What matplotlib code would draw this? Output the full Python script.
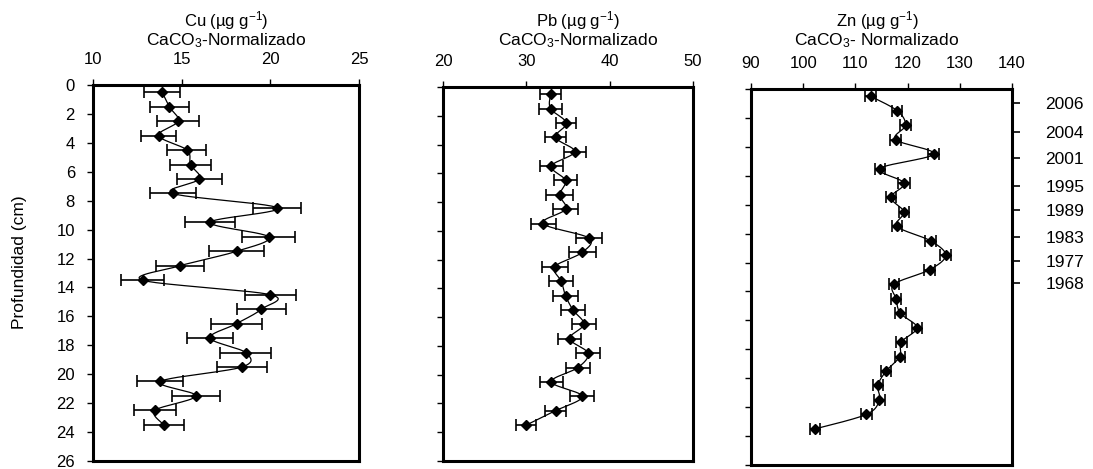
import matplotlib.pyplot as plt
import numpy as np

# fuente tipo Arial
plt.rcParams['font.family'] = ['Liberation Sans', 'DejaVu Sans']
plt.rcParams['mathtext.default'] = 'regular'

# profundidad de cada muestra (cm)
prof = [0.5, 1.5, 2.5, 3.5, 4.5, 5.5, 6.5, 7.5, 8.5, 9.5, 10.5, 11.5,
        12.5, 13.5, 14.5, 15.5, 16.5, 17.5, 18.5, 19.5, 20.5, 21.5, 22.5, 23.5]

# Cu normalizado con CaCO3
cu = [13.9, 14.3, 14.8, 13.7, 15.3, 15.5, 16.0, 14.5, 20.4, 16.6, 19.9, 18.1,
      14.9, 12.8, 20.0, 19.5, 18.1, 16.6, 18.6, 18.4, 13.8, 15.8, 13.5, 14.0]
cu_err = [1.0, 1.1, 1.2, 1.0, 1.1, 1.15, 1.25, 1.3, 1.35, 1.4, 1.5, 1.55,
          1.35, 1.2, 1.45, 1.4, 1.45, 1.3, 1.45, 1.4, 1.3, 1.35, 1.2, 1.15]

# Pb normalizado con CaCO3
pb = [32.9, 32.9, 34.8, 33.5, 35.8, 33.0, 34.7, 34.0, 34.7, 32.0, 37.5, 36.7,
      33.4, 34.2, 34.7, 35.6, 36.9, 35.2, 37.4, 36.2, 33.0, 36.7, 33.5, 30.0]
pb_err = [1.25, 1.35, 1.2, 1.3, 1.3, 1.35, 1.4, 1.6, 1.45, 1.5, 1.55, 1.6,
          1.55, 1.45, 1.5, 1.45, 1.45, 1.35, 1.45, 1.45, 1.4, 1.45, 1.25, 1.2]

# Zn normalizado con CaCO3
zn = [112.9, 118.0, 119.6, 117.7, 125.0, 114.7, 119.3, 116.8, 119.3, 118.0, 124.4, 127.3,
      124.2, 117.4, 117.8, 118.6, 121.8, 118.8, 118.5, 115.9, 114.3, 114.6, 112.1, 102.3]
zn_err = [1.0, 1.0, 1.0, 1.0, 1.1, 1.0, 1.1, 1.0, 1.0, 1.0, 1.0, 1.0,
          1.0, 1.0, 1.0, 1.0, 1.0, 1.0, 1.0, 1.0, 1.0, 1.0, 1.0, 1.0]

# escala de edades (eje derecho)
anos = ['2006', '2004', '2001', '1995', '1989', '1983', '1977', '1968']
anos_prof = [1.0, 2.95, 4.8, 6.7, 8.4, 10.2, 11.9, 13.4]


def suavizar(x, y, n=24):
    # linea suavizada tipo Excel (Bezier / Catmull-Rom)
    x = np.asarray(x, float)
    y = np.asarray(y, float)
    px = np.concatenate([[x[0]], x, [x[-1]]])
    py = np.concatenate([[y[0]], y, [y[-1]]])
    t = np.linspace(0, 1, n, endpoint=False)[:, None]
    out = []
    for i in range(1, len(px) - 2):
        p0 = np.array([px[i - 1], py[i - 1]])
        p1 = np.array([px[i], py[i]])
        p2 = np.array([px[i + 1], py[i + 1]])
        p3 = np.array([px[i + 2], py[i + 2]])
        c1 = p1 + (p2 - p0) / 6
        c2 = p2 - (p3 - p1) / 6
        seg = ((1 - t) ** 3) * p1 + 3 * ((1 - t) ** 2) * t * c1 + 3 * (1 - t) * t ** 2 * c2 + t ** 3 * p2
        out.append(seg)
    out.append(np.array([[x[-1], y[-1]]]))
    out = np.vstack(out)
    return out[:, 0], out[:, 1]


W, H = 1093, 469
fig = plt.figure(figsize=(W / 100, H / 100), dpi=100)


def caja(x0, y0, x1, y1):
    return fig.add_axes([x0 / W, 1 - y1 / H, (x1 - x0) / W, (y1 - y0) / H])


paneles = [
    (caja(93, 85, 359, 461), cu, cu_err, (10, 25), [10, 15, 20, 25], 'Cu', 226, '-'),
    (caja(443, 87, 693, 461), pb, pb_err, (20, 50), [20, 30, 40, 50], 'Pb', 578, '-'),
    (caja(751, 89, 1012, 465), zn, zn_err, (90, 140), [90, 100, 110, 120, 130, 140], 'Zn', 877, '- '),
]

for i, (ax, val, err, lim, xt, nombre, xc, guion) in enumerate(paneles):
    ax.errorbar(val, prof, xerr=err, fmt='none', ecolor='black',
                elinewidth=1.2, capsize=4.5, capthick=1.2, zorder=2)
    sx, sy = suavizar(val, prof)
    ax.plot(sx, sy, color='black', lw=0.9, zorder=3)
    ax.plot(val, prof, linestyle='none', marker='D', color='black', markersize=5.5, zorder=4)

    ax.set_xlim(*lim)
    ax.set_ylim(26, 0)
    ax.set_xticks(xt)
    ax.set_yticks(np.arange(0, 27, 2))
    ax.xaxis.tick_top()
    ax.tick_params(axis='x', direction='out', length=4, width=1, pad=9, labelsize=12)
    ax.tick_params(axis='y', direction='out', length=4, width=1, pad=9, labelsize=12)
    if i > 0:
        ax.set_yticklabels([])
    for s in ax.spines.values():
        s.set_linewidth(2.2)

    fig.text(xc / W, 1 - 21 / H, nombre + r' (µg g$^{-1}$)', ha='center', va='center', fontsize=12)
    fig.text(xc / W, 1 - 41 / H, r'CaCO$_3$' + guion + 'Normalizado', ha='center', va='center', fontsize=12.5)

# eje de edades a la derecha del panel de Zn
ax3 = paneles[2][0]
ax3b = ax3.twinx()
ax3b.set_ylim(26, 0)
ax3b.set_yticks(anos_prof)
ax3b.set_yticklabels(anos)
ax3b.tick_params(axis='y', direction='out', length=6, width=1.2, pad=18, labelsize=12.5)
for s in ax3b.spines.values():
    s.set_visible(False)

fig.text(20 / W, 1 - 262 / H, 'Profundidad (cm)', rotation=90, ha='center', va='center', fontsize=12.5)

plt.savefig('out.png', dpi=100)
